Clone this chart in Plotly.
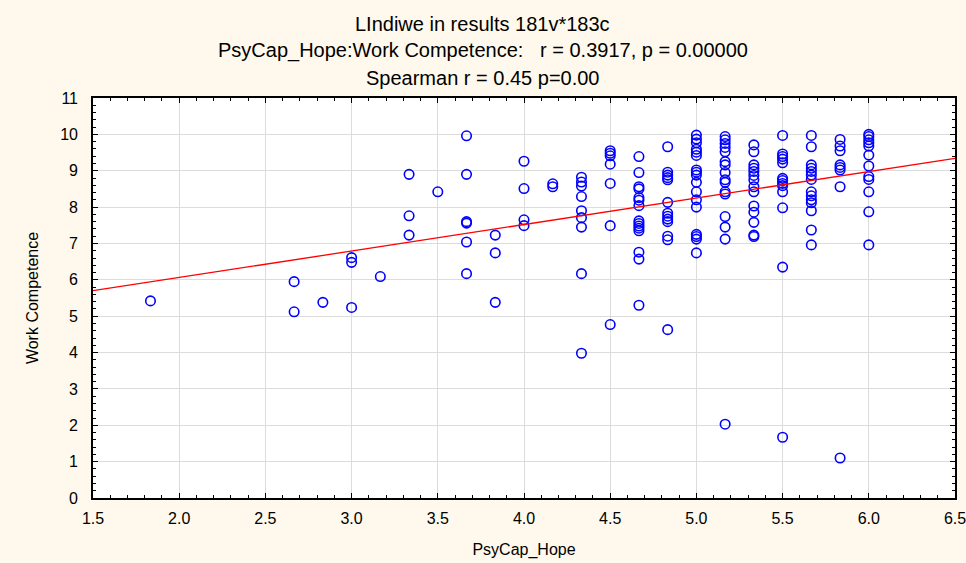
import plotly.graph_objects as go

# ---- data ----
hope_levels = [11/6, 16/6, 17/6, 18/6, 19/6, 20/6, 21/6, 22/6, 23/6, 24/6, 25/6,
               26/6, 27/6, 28/6, 29/6, 30/6, 31/6, 32/6, 33/6, 34/6, 35/6, 36/6]

wc_183 = [5.42]
wc_267 = [5.95, 5.12]
wc_283 = [5.38]
wc_300 = [6.61, 6.48, 5.24]
wc_317 = [6.09]
wc_333 = [8.90, 7.76, 7.23]
wc_350 = [8.42]
wc_367 = [9.96, 8.90, 7.60, 7.56, 7.04, 6.17]
wc_383 = [7.23, 6.74, 5.38]
wc_400 = [9.26, 8.51, 7.65, 7.49]
wc_417 = [8.64, 8.56]
wc_433 = [8.82, 8.69, 8.58, 8.29, 7.90, 7.71, 7.45, 6.17, 3.98]
wc_450 = [9.55, 9.48, 9.41, 9.18, 8.65, 7.49, 4.77]
wc_467 = [9.39, 8.95, 8.56, 8.50, 8.26, 8.19, 8.04, 7.62, 7.55, 7.48, 7.42, 7.35, 6.76, 6.57, 5.30]
wc_483 = [9.66, 8.96, 8.88, 8.81, 8.75, 8.13, 7.83, 7.75, 7.67, 7.60, 7.20, 7.10, 4.63]
wc_500 = [9.98, 9.87, 9.77, 9.59, 9.51, 9.42, 9.02, 8.96, 8.88, 8.68, 8.42, 8.20, 8.00, 7.25, 7.19, 7.12, 6.74]
wc_517 = [9.94, 9.85, 9.75, 9.64, 9.52, 9.25, 9.16, 8.95, 8.75, 8.68, 8.42, 8.36, 7.74, 7.45, 7.12, 2.03]
wc_533 = [9.71, 9.52, 9.16, 9.07, 8.98, 8.87, 8.75, 8.56, 8.42, 8.03, 7.86, 7.58, 7.23, 7.19]
wc_550 = [9.97, 9.46, 9.39, 9.32, 9.22, 8.79, 8.73, 8.65, 8.59, 8.42, 7.98, 6.35, 1.67]
wc_567 = [9.97, 9.66, 9.16, 9.07, 8.98, 8.88, 8.76, 8.42, 8.31, 8.20, 8.12, 7.90, 7.37, 6.96]
wc_583 = [9.86, 9.68, 9.55, 9.16, 9.09, 9.02, 8.56, 1.10]
wc_600 = [10.0, 9.94, 9.85, 9.77, 9.68, 9.43, 9.13, 8.84, 8.76, 8.42, 7.87, 6.96]

competence_by_level = [wc_183, wc_267, wc_283, wc_300, wc_317, wc_333, wc_350, wc_367,
                       wc_383, wc_400, wc_417, wc_433, wc_450, wc_467, wc_483, wc_500,
                       wc_517, wc_533, wc_550, wc_567, wc_583, wc_600]

fit_intercept = 4.608
fit_slope = 0.728

title_lines = ["LIndiwe in results 181v*183c",
               "PsyCap_Hope:Work Competence:\u00a0\u00a0 r = 0.3917, p = 0.00000",
               "Spearman r = 0.45 p=0.00"]
x_title = "PsyCap_Hope"
y_title = "Work Competence"
x_range = [1.5, 6.5]
y_range = [0, 11]

# ---- build ----
xs, ys = [], []
for lvl, vals in zip(hope_levels, competence_by_level):
    for v in vals:
        xs.append(lvl)
        ys.append(v)

font_family = "Liberation Sans, Arial, sans-serif"
bg = "#fef9ec"

fig = go.Figure()
fig.add_trace(go.Scatter(
    x=xs, y=ys, mode="markers",
    marker=dict(symbol="circle-open", size=9.5, color="#0000ff",
                line=dict(color="#0000ff", width=1.6)),
    showlegend=False, cliponaxis=False))
fig.add_trace(go.Scatter(
    x=x_range, y=[fit_intercept + fit_slope * x for x in x_range],
    mode="lines", line=dict(color="#ff0000", width=1.3), showlegend=False))

annotations = []
for t, yp in zip(title_lines, [1.185, 1.118, 1.05]):
    annotations.append(dict(text=t, xref="paper", yref="paper", x=0.452, y=yp,
                            xanchor="center", yanchor="middle", showarrow=False,
                            font=dict(size=20, color="black", family=font_family)))

axis_common = dict(showline=True, linecolor="black", linewidth=1.6, mirror="ticks",
                   ticks="inside", ticklen=5, tickwidth=1.2, tickcolor="black",
                   showgrid=True, gridcolor="#dcdcdc", gridwidth=1.2, zeroline=False,
                   automargin=False, ticklabeloverflow="allow",
                   tickfont=dict(size=16, color="black", family=font_family))

fig.update_layout(
    width=966, height=563,
    margin=dict(l=93, r=11, t=98, b=65, autoexpand=False),
    paper_bgcolor=bg, plot_bgcolor="white",
    annotations=annotations,
    xaxis=dict(range=x_range, tick0=1.5, dtick=0.5, tickformat=".1f",
               ticklabelstandoff=5,
               minor=dict(ticks="inside", dtick=0.1, ticklen=3, tickcolor="black", showgrid=False),
               title=dict(text=x_title, standoff=18,
                          font=dict(size=16, color="black", family=font_family)),
               **axis_common),
    yaxis=dict(range=y_range, tick0=0, dtick=1,
               ticklabelstandoff=10,
               minor=dict(ticks="inside", dtick=0.2, ticklen=3, tickcolor="black", showgrid=False),
               title=dict(text=y_title, standoff=18,
                          font=dict(size=16, color="black", family=font_family)),
               **axis_common),
)

fig.write_html("out.html", config={"displayModeBar": False},
               post_script="document.body.style.margin='0';document.body.style.background='%s';" % bg)
